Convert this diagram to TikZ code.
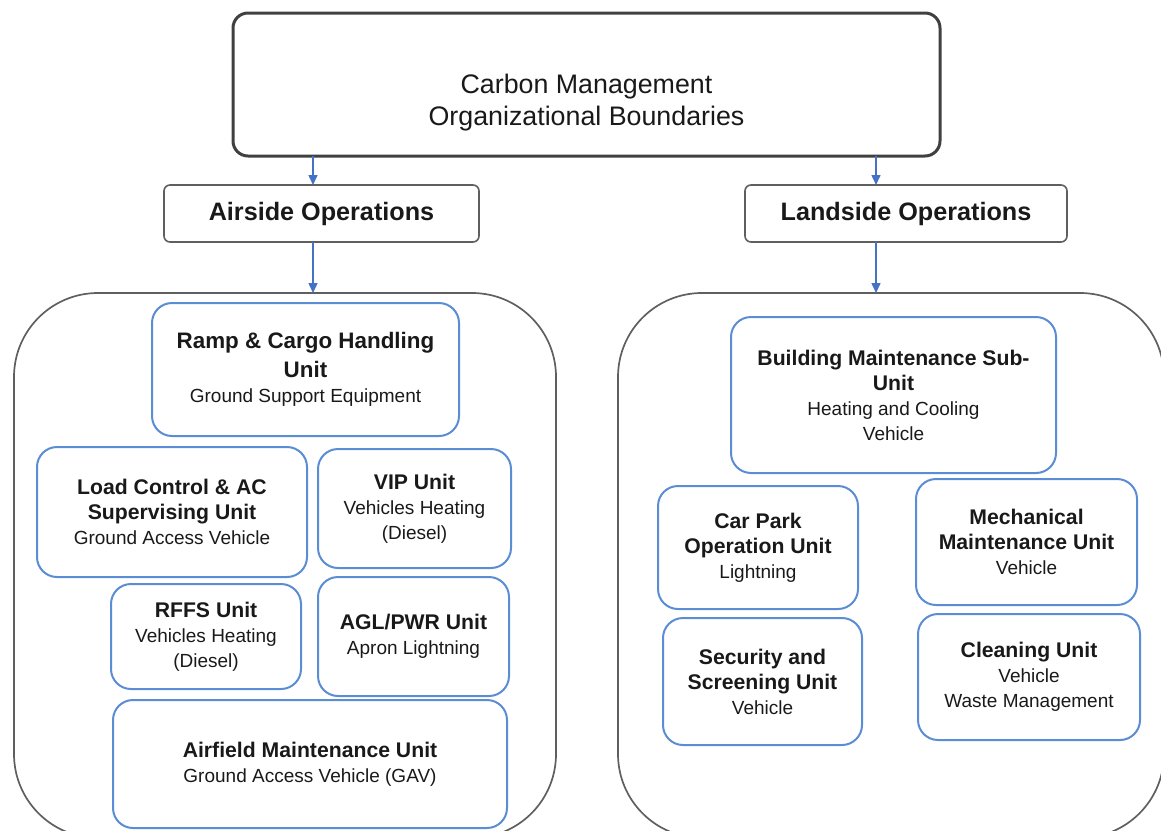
\documentclass[tikz,border=0pt]{standalone}
\usepackage{fontspec}
\setmainfont{Liberation Sans}
\usetikzlibrary{arrows.meta}
\definecolor{unitblue}{RGB}{91,141,213}
\definecolor{arrowblue}{RGB}{68,114,196}
\definecolor{framegray}{RGB}{95,95,95}
\definecolor{topgray}{RGB}{64,64,64}
\newcommand{\hd}[1]{{\fontsize{10.6}{12.5}\selectfont\bfseries #1}}
\newcommand{\hdbig}[1]{{\fontsize{11.2}{12.5}\selectfont\bfseries #1}}
\begin{document}
\begin{tikzpicture}[x=0.5pt,y=-0.5pt,
  every node/.style={inner sep=0pt,outer sep=0pt,align=center,text=black!90},
  topbox/.style={draw=topgray,line width=1.5pt,rounded corners=7.5pt},
  opsbox/.style={draw=framegray,line width=0.8pt,rounded corners=3pt,font=\fontsize{12.6}{15}\selectfont\bfseries},
  groupbox/.style={draw=framegray,line width=0.85pt,rounded corners=42pt},
  unitbox/.style={draw=unitblue,line width=1pt,rounded corners=10pt,font=\fontsize{9.5}{12.5}\selectfont},
  link/.style={draw=arrowblue,line width=0.75pt,-{Triangle[length=5pt,width=4.5pt]}}]
\useasboundingbox (0,0) rectangle (1161,830);
\clip (0,0) rectangle (1161,830);
% top level
\node [topbox,minimum width=353.5pt,minimum height=71.5pt,
  label={[align=center,yshift=-9pt,font=\fontsize{13.4}{16}\selectfont]center:{Carbon Management\\Organizational Boundaries}}]
  (cm) at (586.5,84.5) {};
\node [opsbox,minimum width=157.5pt,minimum height=28.5pt] (air) at (321.5,213.5) {Airside Operations};
\node [opsbox,minimum width=161pt,minimum height=28.5pt] (land) at (906,213.5) {Landside Operations};
% group frames
\node [groupbox,minimum width=271pt,minimum height=272.5pt] (airgrp) at (285,565.5) {};
\node [groupbox,minimum width=273pt,minimum height=272.5pt] (landgrp) at (891,565.5) {};
% airside units
\node [unitbox,minimum width=153.5pt,minimum height=66.5pt] (ramp) at (305.5,369.5)
  {\hdbig{Ramp \& Cargo Handling}\\[2pt]\hdbig{Unit}\\Ground Support Equipment};
\node [unitbox,minimum width=135pt,minimum height=65pt] (load) at (172,512)
  {\hd{Load Control \& AC}\\\hd{Supervising Unit}\\Ground Access Vehicle};
\node [unitbox,minimum width=96.5pt,minimum height=59.5pt] (vip) at (414.5,508.5)
  {\hd{VIP Unit}\\Vehicles Heating\\(Diesel)};
\node [unitbox,minimum width=95pt,minimum height=52.5pt] (rffs) at (206,636.5)
  {\hd{RFFS Unit}\\Vehicles Heating\\(Diesel)};
\node [unitbox,minimum width=95.5pt,minimum height=59.5pt] (agl) at (413.5,636.5)
  {\hd{AGL/PWR Unit}\\Apron Lightning};
\node [unitbox,minimum width=197pt,minimum height=64pt] (airf) at (310,764)
  {\hd{Airfield Maintenance Unit}\\Ground Access Vehicle (GAV)};
% landside units
\node [unitbox,minimum width=162.5pt,minimum height=78pt] (bld) at (893.5,395)
  {\hd{Building Maintenance Sub-}\\\hd{Unit}\\Heating and Cooling\\Vehicle};
\node [unitbox,minimum width=100pt,minimum height=61.5pt] (car) at (758,547.5)
  {\hd{Car Park}\\\hd{Operation Unit}\\Lightning};
\node [unitbox,minimum width=110.5pt,minimum height=63pt] (mech) at (1026.5,542)
  {\hd{Mechanical}\\\hd{Maintenance Unit}\\Vehicle};
\node [unitbox,minimum width=99.5pt,minimum height=63.5pt] (sec) at (762.5,681.5)
  {\hd{Security and}\\\hd{Screening Unit}\\Vehicle};
\node [unitbox,minimum width=111pt,minimum height=63pt] (cln) at (1029,677)
  {\hd{Cleaning Unit}\\Vehicle\\Waste Management};
% connectors
\coordinate (ax) at (313,0);
\coordinate (lx) at (876,0);
\draw [link] (cm.south -| ax) -- (air.north -| ax);
\draw [link] (cm.south -| lx) -- (land.north -| lx);
\draw [link] (air.south -| ax) -- (airgrp.north -| ax);
\draw [link] (land.south -| lx) -- (landgrp.north -| lx);
\end{tikzpicture}
\end{document}
